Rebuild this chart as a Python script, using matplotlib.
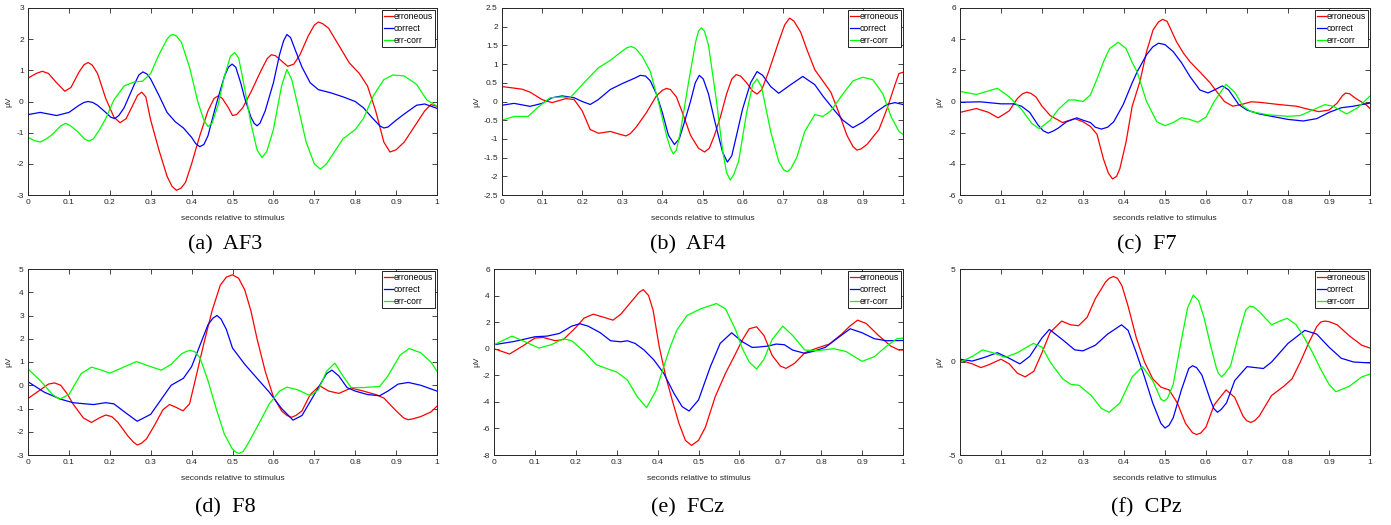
import matplotlib.pyplot as plt

plt.rcParams["font.family"] = ["Liberation Sans", "DejaVu Sans"]
plt.rcParams["axes.unicode_minus"] = False

labels = ["erroneous", "correct", "err-corr"]
colors = ["#ff0000", "#0000ff", "#00ff00"]
x_ticks = [0, 0.1, 0.2, 0.3, 0.4, 0.5, 0.6, 0.7, 0.8, 0.9, 1]
x_tick_labels = ["0", "0.1", "0.2", "0.3", "0.4", "0.5", "0.6", "0.7", "0.8", "0.9", "1"]

# ---- (a) AF3 ----
af3_err_t = [0, 0.02, 0.035, 0.05, 0.07, 0.09, 0.105, 0.125, 0.137, 0.147, 0.157, 0.17, 0.19, 0.21,
             0.225, 0.24, 0.255, 0.268, 0.278, 0.288, 0.3, 0.32, 0.34, 0.352, 0.363, 0.374, 0.385,
             0.4, 0.42, 0.44, 0.455, 0.465, 0.475, 0.49, 0.5, 0.51, 0.525, 0.545, 0.57, 0.585,
             0.595, 0.605, 0.62, 0.635, 0.65, 0.665, 0.685, 0.7, 0.71, 0.72, 0.735, 0.76, 0.785,
             0.81, 0.83, 0.85, 0.87, 0.885, 0.9, 0.92, 0.94, 0.97, 0.985, 1.0]
af3_err_v = [0.75, 0.9, 0.97, 0.9, 0.6, 0.33, 0.45, 0.95, 1.18, 1.25, 1.17, 0.9, 0.1, -0.5,
             -0.68, -0.55, -0.15, 0.2, 0.3, 0.15, -0.6, -1.55, -2.4, -2.72, -2.85, -2.78, -2.6,
             -2.0, -1.1, -0.3, 0.1, 0.18, 0.1, -0.2, -0.45, -0.42, -0.2, 0.3, 1.0, 1.38,
             1.5, 1.47, 1.3, 1.13, 1.2, 1.5, 2.1, 2.45, 2.55, 2.5, 2.35, 1.8, 1.25,
             0.9, 0.5, -0.3, -1.3, -1.62, -1.55, -1.3, -0.9, -0.3, -0.1, -0.15]
af3_cor_t = [0, 0.03, 0.07, 0.1, 0.125, 0.137, 0.147, 0.158, 0.17, 0.19, 0.202, 0.212, 0.222, 0.235,
             0.25, 0.26, 0.271, 0.281, 0.291, 0.3, 0.32, 0.34, 0.36, 0.38, 0.4, 0.41, 0.42, 0.43,
             0.44, 0.46, 0.48, 0.49, 0.499, 0.508, 0.52, 0.53, 0.545, 0.553, 0.56, 0.567, 0.58,
             0.6, 0.615, 0.625, 0.633, 0.642, 0.655, 0.67, 0.69, 0.71, 0.74, 0.77, 0.8, 0.82,
             0.84, 0.86, 0.87, 0.88, 0.9, 0.92, 0.95, 0.97, 1.0]
af3_cor_v = [-0.42, -0.35, -0.45, -0.35, -0.12, -0.03, 0.0, -0.03, -0.12, -0.35, -0.5, -0.55, -0.45, -0.2,
             0.25, 0.55, 0.85, 0.95, 0.88, 0.72, 0.2, -0.35, -0.65, -0.85, -1.15, -1.35, -1.45, -1.38,
             -1.1, -0.1, 0.8, 1.1, 1.2, 1.1, 0.6, 0.1, -0.5, -0.7, -0.78, -0.7, -0.3,
             0.6, 1.5, 1.95, 2.15, 2.05, 1.6, 1.1, 0.6, 0.38, 0.28, 0.15, 0.0, -0.2,
             -0.5, -0.78, -0.85, -0.82, -0.6, -0.4, -0.12, -0.08, -0.22]
af3_dif_t = [0, 0.015, 0.03, 0.045, 0.06, 0.08, 0.092, 0.104, 0.12, 0.138, 0.149, 0.16, 0.175, 0.19,
             0.21, 0.235, 0.26, 0.28, 0.3, 0.32, 0.34, 0.348, 0.355, 0.363, 0.375, 0.395, 0.415,
             0.43, 0.44, 0.45, 0.465, 0.48, 0.495, 0.505, 0.515, 0.53, 0.545, 0.56, 0.572, 0.584,
             0.6, 0.62, 0.633, 0.645, 0.66, 0.68, 0.7, 0.715, 0.73, 0.75, 0.77, 0.8, 0.82, 0.845,
             0.87, 0.892, 0.92, 0.95, 0.975, 1.0]
af3_dif_v = [-1.15, -1.25, -1.3, -1.2, -1.05, -0.78, -0.7, -0.78, -0.95, -1.2, -1.27, -1.2, -0.9, -0.55,
             0.05, 0.5, 0.63, 0.65, 0.9, 1.5, 2.0, 2.12, 2.15, 2.1, 1.9, 1.1, 0.0,
             -0.6, -0.8, -0.7, -0.1, 0.8, 1.45, 1.57, 1.4, 0.4, -0.7, -1.55, -1.8, -1.6,
             -0.9, 0.5, 1.03, 0.7, -0.15, -1.3, -2.0, -2.17, -2.0, -1.6, -1.2, -0.9, -0.55, 0.2,
             0.7, 0.85, 0.82, 0.55, 0.05, -0.15]

# ---- (b) AF4 ----
af4_err_t = [0, 0.05, 0.07, 0.1, 0.125, 0.16, 0.18, 0.2, 0.22, 0.241, 0.27, 0.295, 0.309, 0.32,
             0.335, 0.36, 0.385, 0.4, 0.41, 0.42, 0.435, 0.45, 0.47, 0.49, 0.505, 0.517, 0.53,
             0.545, 0.56, 0.573, 0.584, 0.595, 0.61, 0.625, 0.636, 0.648, 0.665, 0.69, 0.705,
             0.717, 0.728, 0.745, 0.76, 0.78, 0.8, 0.82, 0.84, 0.86, 0.875, 0.885, 0.895, 0.91,
             0.94, 0.96, 0.98, 0.99, 1.0]
af4_err_v = [0.4, 0.33, 0.25, 0.05, -0.03, 0.08, 0.05, -0.25, -0.75, -0.85, -0.8, -0.88, -0.92, -0.86,
             -0.68, -0.3, 0.15, 0.3, 0.35, 0.32, 0.12, -0.3, -0.9, -1.25, -1.35, -1.25, -0.9,
             -0.4, 0.2, 0.6, 0.72, 0.68, 0.5, 0.28, 0.2, 0.32, 0.8, 1.6, 2.05,
             2.23, 2.15, 1.85, 1.4, 0.85, 0.55, 0.25, -0.3, -0.9, -1.2, -1.3, -1.27, -1.15,
             -0.75, -0.2, 0.45, 0.75, 0.78]
af4_cor_t = [0, 0.03, 0.07, 0.1, 0.125, 0.15, 0.18, 0.2, 0.22, 0.24, 0.27, 0.3, 0.33, 0.345,
             0.358, 0.37, 0.385, 0.4, 0.415, 0.43, 0.442, 0.455, 0.47, 0.482, 0.492, 0.502, 0.515,
             0.53, 0.55, 0.562, 0.573, 0.585, 0.6, 0.62, 0.636, 0.65, 0.67, 0.69, 0.72, 0.75,
             0.78, 0.8, 0.83, 0.85, 0.875, 0.9, 0.93, 0.96, 0.98, 1.0]
af4_cor_v = [-0.1, -0.05, -0.13, -0.05, 0.1, 0.15, 0.1, 0.0, -0.08, 0.05, 0.32, 0.48, 0.62, 0.7,
             0.68, 0.55, 0.2, -0.3, -0.9, -1.15, -1.0, -0.55, 0.0, 0.5, 0.7, 0.6, 0.2,
             -0.5, -1.35, -1.62, -1.45, -0.9, -0.2, 0.5, 0.8, 0.7, 0.4, 0.22, 0.45, 0.67,
             0.45, 0.15, -0.25, -0.5, -0.7, -0.55, -0.3, -0.08, -0.03, -0.08]
af4_dif_t = [0, 0.03, 0.065, 0.09, 0.12, 0.15, 0.17, 0.2, 0.24, 0.27, 0.3, 0.312, 0.322, 0.333,
             0.35, 0.37, 0.39, 0.41, 0.42, 0.427, 0.435, 0.445, 0.465, 0.483, 0.49, 0.497, 0.505,
             0.515, 0.535, 0.55, 0.56, 0.569, 0.578, 0.59, 0.61, 0.625, 0.636, 0.647, 0.67, 0.69,
             0.702, 0.711, 0.72, 0.735, 0.755, 0.78, 0.8, 0.82, 0.85, 0.875, 0.9, 0.925, 0.95,
             0.97, 0.99, 1.0]
af4_dif_v = [-0.5, -0.4, -0.4, -0.15, 0.1, 0.12, 0.1, 0.45, 0.9, 1.1, 1.35, 1.44, 1.47, 1.42,
             1.2, 0.8, 0.0, -0.9, -1.25, -1.4, -1.3, -0.8, 0.5, 1.6, 1.88, 1.97, 1.88,
             1.5, 0.0, -1.3, -1.9, -2.1, -1.95, -1.6, -0.3, 0.45, 0.6, 0.4, -0.8, -1.6,
             -1.82, -1.88, -1.8, -1.5, -0.8, -0.35, -0.4, -0.25, 0.2, 0.55, 0.65, 0.58, 0.2,
             -0.4, -0.8, -0.88]

# ---- (c) F7 ----
f7_err_t = [0, 0.04, 0.07, 0.093, 0.12, 0.14, 0.153, 0.163, 0.173, 0.185, 0.2, 0.22, 0.25, 0.28,
            0.3, 0.318, 0.334, 0.35, 0.362, 0.372, 0.382, 0.39, 0.405, 0.42, 0.439, 0.455, 0.471,
            0.484, 0.494, 0.505, 0.528, 0.545, 0.561, 0.585, 0.61, 0.63, 0.645, 0.665, 0.685,
            0.71, 0.73, 0.78, 0.82, 0.85, 0.875, 0.9, 0.92, 0.932, 0.94, 0.95, 0.965, 0.99, 1.0]
f7_err_v = [-0.7, -0.45, -0.7, -1.05, -0.6, 0.2, 0.5, 0.6, 0.52, 0.3, -0.3, -0.9, -1.35, -1.1,
            -1.3, -1.6, -2.1, -3.7, -4.6, -4.97, -4.8, -4.3, -2.6, -0.3, 1.3, 3.2, 4.6,
            5.1, 5.27, 5.15, 3.84, 3.1, 2.55, 1.9, 1.2, 0.5, 0.0, -0.3, -0.2,
            -0.02, -0.05, -0.2, -0.3, -0.5, -0.65, -0.55, -0.1, 0.35, 0.54, 0.5, 0.2, -0.2, -0.45]
f7_cor_t = [0, 0.05, 0.1, 0.13, 0.15, 0.17, 0.19, 0.203, 0.215, 0.227, 0.24, 0.26, 0.285, 0.3,
            0.318, 0.33, 0.345, 0.36, 0.375, 0.398, 0.42, 0.432, 0.455, 0.47, 0.484, 0.5, 0.52,
            0.54, 0.561, 0.585, 0.605, 0.625, 0.64, 0.655, 0.68, 0.7, 0.73, 0.77, 0.8, 0.837,
            0.87, 0.9, 0.93, 0.96, 1.0]
f7_cor_v = [-0.05, -0.02, -0.15, -0.15, -0.3, -0.7, -1.5, -1.88, -2.03, -1.9, -1.7, -1.3, -1.05, -1.2,
            -1.35, -1.65, -1.77, -1.65, -1.3, -0.2, 1.2, 1.9, 3.0, 3.5, 3.74, 3.65, 3.2,
            2.5, 1.6, 0.74, 0.55, 0.8, 1.0, 0.75, -0.2, -0.55, -0.8, -1.0, -1.15, -1.25,
            -1.1, -0.7, -0.4, -0.3, -0.1]
f7_dif_t = [0, 0.04, 0.091, 0.12, 0.15, 0.175, 0.193, 0.22, 0.24, 0.265, 0.28, 0.3, 0.318, 0.335,
            0.35, 0.365, 0.386, 0.405, 0.42, 0.432, 0.455, 0.48, 0.5, 0.52, 0.54, 0.56, 0.58,
            0.6, 0.62, 0.649, 0.67, 0.69, 0.71, 0.75, 0.8, 0.83, 0.86, 0.89, 0.91, 0.943, 0.97, 1.0]
f7_dif_v = [0.65, 0.45, 0.85, 0.3, -0.5, -1.4, -1.75, -1.2, -0.5, 0.1, 0.1, 0.0, 0.42, 1.5,
            2.55, 3.4, 3.8, 3.4, 2.5, 1.9, 0.0, -1.3, -1.55, -1.35, -1.04, -1.15, -1.33,
            -1.0, 0.0, 1.1, 0.6, -0.3, -0.65, -0.85, -0.95, -0.9, -0.55, -0.2, -0.3, -0.8, -0.4, 0.35]

# ---- (d) F8 ----
f8_err_t = [0, 0.03, 0.05, 0.065, 0.08, 0.095, 0.11, 0.135, 0.155, 0.175, 0.19, 0.205, 0.22, 0.245,
            0.258, 0.267, 0.277, 0.29, 0.31, 0.33, 0.346, 0.362, 0.379, 0.395, 0.41, 0.43, 0.45,
            0.47, 0.485, 0.5, 0.515, 0.53, 0.545, 0.56, 0.58, 0.6, 0.62, 0.633, 0.644, 0.655,
            0.67, 0.69, 0.713, 0.735, 0.76, 0.79, 0.82, 0.85, 0.87, 0.9, 0.918, 0.929, 0.94,
            0.96, 0.985, 1.0]
f8_err_v = [-0.57, -0.2, 0.05, 0.1, 0.0, -0.35, -0.8, -1.4, -1.6, -1.4, -1.28, -1.35, -1.6, -2.2,
            -2.45, -2.57, -2.5, -2.3, -1.7, -1.05, -0.83, -0.95, -1.1, -0.8, 0.3, 1.8, 3.2,
            4.3, 4.65, 4.75, 4.6, 4.1, 3.2, 2.0, 0.6, -0.5, -1.1, -1.3, -1.38, -1.3,
            -1.1, -0.4, -0.02, -0.25, -0.35, -0.12, -0.25, -0.4, -0.55, -1.1, -1.4, -1.48, -1.45,
            -1.35, -1.15, -0.9]
f8_cor_t = [0, 0.04, 0.08, 0.11, 0.14, 0.16, 0.19, 0.21, 0.24, 0.267, 0.3, 0.33, 0.35, 0.38,
            0.4, 0.42, 0.44, 0.452, 0.462, 0.472, 0.485, 0.5, 0.53, 0.56, 0.59, 0.62, 0.648,
            0.67, 0.69, 0.71, 0.73, 0.743, 0.76, 0.78, 0.8, 0.83, 0.86, 0.88, 0.905, 0.93,
            0.96, 1.0]
f8_cor_v = [0.15, -0.3, -0.6, -0.75, -0.8, -0.83, -0.75, -0.8, -1.2, -1.55, -1.25, -0.5, 0.0, 0.3,
            0.8, 1.7, 2.6, 2.88, 3.0, 2.85, 2.4, 1.6, 0.9, 0.3, -0.3, -1.0, -1.5,
            -1.3, -0.7, -0.1, 0.5, 0.65, 0.4, -0.1, -0.25, -0.4, -0.45, -0.25, 0.05, 0.12,
            0.0, -0.25]
f8_dif_t = [0, 0.03, 0.06, 0.077, 0.1, 0.13, 0.155, 0.18, 0.2, 0.23, 0.265, 0.3, 0.326, 0.35,
            0.375, 0.388, 0.397, 0.408, 0.42, 0.44, 0.46, 0.48, 0.5, 0.508, 0.516, 0.526, 0.535,
            0.56, 0.59, 0.615, 0.633, 0.66, 0.69, 0.71, 0.73, 0.75, 0.77, 0.79, 0.82, 0.86,
            0.88, 0.91, 0.932, 0.96, 0.985, 1.0]
f8_dif_v = [0.7, 0.2, -0.4, -0.6, -0.4, 0.5, 0.78, 0.65, 0.52, 0.75, 1.02, 0.8, 0.65, 0.9,
            1.35, 1.46, 1.5, 1.44, 1.2, 0.2, -1.0, -2.1, -2.75, -2.87, -2.93, -2.85, -2.6,
            -1.8, -0.8, -0.25, -0.08, -0.2, -0.45, -0.2, 0.6, 0.95, 0.4, -0.1, -0.1, -0.05,
            0.4, 1.3, 1.58, 1.4, 1.0, 0.6]

# ---- (e) FCz ----
fcz_err_t = [0, 0.038, 0.07, 0.1, 0.12, 0.15, 0.17, 0.2, 0.22, 0.243, 0.27, 0.291, 0.31, 0.34,
             0.355, 0.365, 0.378, 0.389, 0.404, 0.42, 0.436, 0.452, 0.468, 0.483, 0.5, 0.517,
             0.541, 0.566, 0.591, 0.607, 0.624, 0.642, 0.66, 0.68, 0.7, 0.714, 0.735, 0.76,
             0.79, 0.82, 0.85, 0.87, 0.889, 0.91, 0.94, 0.97, 0.99, 1.0]
fcz_err_v = [0.0, -0.4, 0.2, 0.8, 0.85, 0.6, 0.7, 1.6, 2.3, 2.6, 2.35, 2.15, 2.6, 3.7,
             4.25, 4.45, 4.0, 2.9, 0.15, -2.1, -3.9, -5.6, -6.9, -7.28, -6.9, -5.9,
             -3.6, -1.85, -0.35, 0.65, 1.5, 1.65, 1.0, -0.5, -1.3, -1.48, -1.1, -0.3,
             0.05, 0.35, 1.1, 1.7, 2.15, 1.9, 1.0, 0.2, -0.1, -0.1]
fcz_cor_t = [0, 0.05, 0.1, 0.13, 0.16, 0.19, 0.21, 0.23, 0.26, 0.285, 0.31, 0.326, 0.345, 0.367,
             0.391, 0.415, 0.44, 0.46, 0.477, 0.5, 0.529, 0.553, 0.581, 0.607, 0.631, 0.645,
             0.67, 0.69, 0.71, 0.73, 0.76, 0.78, 0.81, 0.84, 0.871, 0.9, 0.93, 0.96, 1.0]
fcz_cor_v = [0.3, 0.55, 0.9, 0.95, 1.15, 1.7, 1.88, 1.7, 1.2, 0.6, 0.52, 0.6, 0.4, -0.1,
             -0.85, -1.85, -3.36, -4.36, -4.69, -3.86, -1.35, 0.4, 1.2, 0.53, 0.1, 0.12,
             0.2, 0.35, 0.3, -0.1, -0.35, -0.2, 0.1, 0.8, 1.5, 1.2, 0.75, 0.6, 0.62]
fcz_dif_t = [0, 0.044, 0.07, 0.11, 0.14, 0.17, 0.19, 0.22, 0.25, 0.285, 0.3, 0.326, 0.35, 0.373,
             0.397, 0.415, 0.431, 0.447, 0.472, 0.505, 0.544, 0.566, 0.591, 0.607, 0.624, 0.642,
             0.66, 0.68, 0.706, 0.73, 0.76, 0.79, 0.83, 0.86, 0.9, 0.93, 0.96, 0.985, 1.0]
fcz_dif_v = [0.3, 0.95, 0.6, 0.05, 0.3, 0.75, 0.6, -0.2, -1.2, -1.6, -1.75, -2.35, -3.6, -4.44,
             -3.1, -1.35, 0.15, 1.4, 2.5, 3.0, 3.4, 3.0, 1.4, 0.03, -1.0, -1.53,
             -0.8, 0.7, 1.7, 1.0, -0.1, -0.15, 0.0, -0.2, -0.95, -0.6, 0.2, 0.75, 0.8]

# ---- (f) CPz ----
cpz_err_t = [0, 0.03, 0.051, 0.07, 0.1, 0.12, 0.14, 0.159, 0.18, 0.2, 0.22, 0.248, 0.27, 0.289,
             0.31, 0.33, 0.355, 0.364, 0.374, 0.384, 0.395, 0.41, 0.43, 0.45, 0.47, 0.49, 0.51,
             0.53, 0.55, 0.567, 0.577, 0.587, 0.6, 0.62, 0.649, 0.67, 0.69, 0.699, 0.709, 0.719,
             0.73, 0.76, 0.79, 0.81, 0.83, 0.85, 0.87, 0.88, 0.89, 0.9, 0.92, 0.95, 0.98, 1.0]
cpz_err_v = [0.1, -0.1, -0.3, -0.15, 0.15, -0.1, -0.6, -0.8, -0.5, 0.5, 1.6, 2.2, 2.0, 1.95,
             2.4, 3.4, 4.3, 4.5, 4.6, 4.5, 4.1, 3.0, 1.3, 0.0, -0.9, -1.35, -1.5,
             -2.2, -3.3, -3.8, -3.9, -3.82, -3.5, -2.3, -1.5, -1.9, -2.9, -3.15, -3.25, -3.15,
             -2.9, -1.8, -1.3, -0.9, 0.0, 1.0, 1.9, 2.15, 2.2, 2.17, 2.0, 1.4, 0.9, 0.75]
cpz_cor_t = [0, 0.03, 0.06, 0.091, 0.12, 0.146, 0.17, 0.2, 0.218, 0.25, 0.28, 0.3, 0.33, 0.36,
             0.394, 0.41, 0.43, 0.45, 0.47, 0.49, 0.5, 0.51, 0.52, 0.54, 0.558, 0.567, 0.577,
             0.59, 0.61, 0.619, 0.628, 0.637, 0.65, 0.67, 0.7, 0.72, 0.74, 0.76, 0.8, 0.841,
             0.87, 0.9, 0.93, 0.96, 1.0]
cpz_cor_v = [0.15, 0.05, 0.25, 0.5, 0.2, -0.1, 0.3, 1.3, 1.75, 1.2, 0.65, 0.6, 0.9, 1.5,
             2.0, 1.7, 0.5, -0.8, -2.2, -3.3, -3.55, -3.4, -3.0, -1.5, -0.35, -0.2, -0.3,
             -0.7, -2.0, -2.5, -2.7, -2.55, -2.2, -1.0, -0.25, -0.3, -0.35, 0.0, 1.0, 1.7,
             1.5, 0.8, 0.2, 0.0, -0.05]
cpz_dif_t = [0, 0.03, 0.055, 0.08, 0.11, 0.14, 0.179, 0.2, 0.22, 0.25, 0.27, 0.29, 0.32, 0.345,
             0.364, 0.39, 0.42, 0.445, 0.47, 0.49, 0.498, 0.506, 0.52, 0.54, 0.555, 0.569, 0.582,
             0.595, 0.61, 0.625, 0.63, 0.638, 0.647, 0.66, 0.68, 0.697, 0.707, 0.717, 0.73, 0.76,
             0.78, 0.798, 0.82, 0.84, 0.86, 0.88, 0.9, 0.917, 0.95, 0.98, 1.0]
cpz_dif_v = [0.0, 0.3, 0.65, 0.5, 0.25, 0.5, 1.0, 0.8, 0.0, -0.9, -1.2, -1.25, -1.8, -2.5,
             -2.7, -2.2, -0.8, -0.25, -1.0, -2.0, -2.1, -1.95, -1.2, 1.2, 2.9, 3.6, 3.3,
             2.4, 1.0, -0.3, -0.6, -0.8, -0.6, -0.2, 1.5, 2.8, 3.0, 2.95, 2.7, 2.0,
             2.2, 2.35, 2.0, 1.3, 0.5, -0.4, -1.2, -1.6, -1.3, -0.8, -0.65]

af3_yticks = [-3, -2, -1, 0, 1, 2, 3]
af4_yticks = [-2.5, -2, -1.5, -1, -0.5, 0, 0.5, 1, 1.5, 2, 2.5]
f7_yticks = [-6, -4, -2, 0, 2, 4, 6]
f8_yticks = [-3, -2, -1, 0, 1, 2, 3, 4, 5]
fcz_yticks = [-8, -6, -4, -2, 0, 2, 4, 6]
cpz_yticks = [-5, 0, 5]

W, H = 1391, 525

# caption, axes box in pixels (left, top, right, bottom), y ticks, series, caption centre, ylabel x
panels = [
    ("(a)  AF3", (28, 8, 437, 195), af3_yticks,
     [(af3_err_t, af3_err_v), (af3_cor_t, af3_cor_v), (af3_dif_t, af3_dif_v)], (225, 245), 12),
    ("(b)  AF4", (502, 8, 903, 195), af4_yticks,
     [(af4_err_t, af4_err_v), (af4_cor_t, af4_cor_v), (af4_dif_t, af4_dif_v)], (688, 245), 480),
    ("(c)  F7", (960, 8, 1370, 195), f7_yticks,
     [(f7_err_t, f7_err_v), (f7_cor_t, f7_cor_v), (f7_dif_t, f7_dif_v)], (1147, 245), 943),
    ("(d)  F8", (28, 269, 437, 455), f8_yticks,
     [(f8_err_t, f8_err_v), (f8_cor_t, f8_cor_v), (f8_dif_t, f8_dif_v)], (225, 508), 12),
    ("(e)  FCz", (494, 269, 903, 455), fcz_yticks,
     [(fcz_err_t, fcz_err_v), (fcz_cor_t, fcz_cor_v), (fcz_dif_t, fcz_dif_v)], (688, 508), 480),
    ("(f)  CPz", (960, 269, 1370, 455), cpz_yticks,
     [(cpz_err_t, cpz_err_v), (cpz_cor_t, cpz_cor_v), (cpz_dif_t, cpz_dif_v)], (1146, 508), 943),
]

fig = plt.figure(figsize=(W / 100, H / 100), dpi=100)
axis_col = "#262626"

for caption, (l, t, r, b), yt, series, (cx, cy), ylx in panels:
    ax = fig.add_axes([l / W, 1 - b / H, (r - l) / W, (b - t) / H])
    for (ts, vs), lab, col in zip(series, labels, colors):
        ax.plot(ts, vs, color=col, lw=0.9, label=lab)
    ax.set_xlim(0, 1)
    ax.set_ylim(yt[0], yt[-1])
    ax.set_xticks(x_ticks)
    ax.set_xticklabels(x_tick_labels)
    ax.set_yticks(yt)
    ax.set_yticklabels([f"{v:g}" for v in yt])
    ax.tick_params(direction="in", length=3.5, width=0.6, top=True, right=True,
                   labelsize=6, colors=axis_col, pad=3)
    for sp in ax.spines.values():
        sp.set_linewidth(0.7)
        sp.set_color(axis_col)
    ax.set_xlabel("seconds relative to stimulus", fontsize=6, color=axis_col)
    ax.xaxis.set_label_coords(0.5, -20 / (b - t))
    ax.set_ylabel("µV", fontsize=6, color=axis_col)
    ax.yaxis.set_label_coords((ylx - l) / (r - l), 0.5)
    leg = ax.legend(loc="upper right", fontsize=6.2, handlelength=1.0, handletextpad=0.1,
                    borderpad=0.25, labelspacing=0.35, borderaxespad=0.25,
                    fancybox=False, framealpha=1, edgecolor="black")
    leg.get_frame().set_linewidth(0.6)
    fig.text(cx / W, 1 - cy / H, caption, ha="center", va="center", fontsize=16,
             family=["Liberation Serif", "DejaVu Serif"])

fig.savefig("out.png", dpi=100)
